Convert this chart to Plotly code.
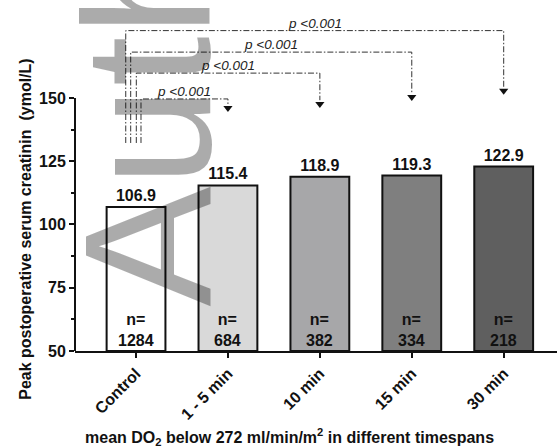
import plotly.graph_objects as go

categories = ["Control", "1 - 5 min", "10 min", "15 min", "30 min"]
values = [106.9, 115.4, 118.9, 119.3, 122.9]
counts = [1284, 684, 382, 334, 218]
bar_colors = ["#ffffff", "#d9d9d9", "#a7a7a9", "#7f7f7f", "#5f5f5f"]
y_ticks = [50, 75, 100, 125, 150]

# comparisons: Control vs each group
comp_targets = [1, 2, 3, 4]
comp_labels = ["p <0.001", "p <0.001", "p <0.001", "p <0.001"]
comp_levels = [149.6, 159.8, 168.1, 176.6]
comp_left_offsets = [0.054, 0.003, -0.058, -0.112]
comp_tips = [146.0, 147.6, 150.4, 152.8]
comp_base = 132.2

xs = list(range(len(categories)))
FONT = "Liberation Sans, Arial, sans-serif"

fig = go.Figure()

fig.add_trace(go.Bar(
    x=xs, y=[v - 50 for v in values], base=50,
    width=0.64,
    marker=dict(color=bar_colors, line=dict(color="#111111", width=2)),
    text=[f"<b>{v:.1f}</b>" for v in values], textposition="outside",
    textfont=dict(family=FONT, size=16, color="#111111"),
    cliponaxis=False, showlegend=False, hoverinfo="skip",
))

# brackets
for t, lvl, off, tip in zip(comp_targets, comp_levels, comp_left_offsets, comp_tips):
    fig.add_trace(go.Scatter(
        x=[0 + off, 0 + off, t, t], y=[comp_base, lvl, lvl, tip + 1.5],
        mode="lines", line=dict(color="#333333", width=1, dash="6px,2px,1.5px,2px"),
        showlegend=False, hoverinfo="skip", cliponaxis=False,
    ))
fig.add_trace(go.Scatter(
    x=comp_targets, y=comp_tips, mode="markers",
    marker=dict(symbol="triangle-down", size=8, color="#111111"),
    showlegend=False, hoverinfo="skip", cliponaxis=False,
))

annotations = []
for t, lvl, off, lab in zip(comp_targets, comp_levels, comp_left_offsets, comp_labels):
    annotations.append(dict(
        x=(off + t) / 2, y=lvl, xref="x", yref="y", text=f"<i>{lab}</i>",
        showarrow=False, yanchor="bottom", xanchor="center", yshift=-2,
        font=dict(family=FONT, size=13.5, color="#222222"),
    ))

for xi, n in zip(xs, counts):
    annotations.append(dict(
        x=xi, y=50, xref="x", yref="y", text=f"<b>n=<br>{n}</b>",
        showarrow=False, yanchor="bottom", xanchor="center", yshift=0,
        font=dict(family=FONT, size=16, color="#111111"),
    ))

annotations.append(dict(
    x=-0.102, y=0.371, xref="paper", yref="paper",
    text="<b>Peak postoperative serum creatinin  (ymol/L)</b>",
    textangle=-90, showarrow=False, xanchor="center", yanchor="middle",
    font=dict(family=FONT, size=16, color="#111111"),
))
annotations.append(dict(
    x=0.446, y=-0.261, xref="paper", yref="paper",
    text="<b>mean DO<sub>2</sub> below 272 ml/min/m<sup>2</sup> in different timespans</b>",
    showarrow=False, xanchor="center", yanchor="middle",
    font=dict(family=FONT, size=16, color="#111111"),
))
# watermark
annotations.append(dict(
    x=0.151, y=0.13, xref="paper", yref="paper",
    text="Author Manuscript", textangle=-90, showarrow=False,
    xanchor="center", yanchor="bottom",
    font=dict(family="Liberation Sans Narrow, Arial Narrow, Liberation Sans", size=180,
              color="rgba(0,0,0,0.33)"),
))

fig.update_layout(
    width=559, height=447,
    margin=dict(l=75, r=2, t=22, b=96),
    plot_bgcolor="white", paper_bgcolor="white",
    bargap=0.36,
    xaxis=dict(
        range=[-0.664, 4.58], tickvals=xs, ticktext=[f"<b>{c}</b>" for c in categories],
        tickangle=-45, showline=True, linecolor="#111111", linewidth=2,
        ticks="outside", ticklen=5, tickwidth=2, tickcolor="#111111",
        tickfont=dict(family=FONT, size=16, color="#111111"),
        showgrid=False, zeroline=False, fixedrange=True,
    ),
    yaxis=dict(
        range=[50, 180], tickvals=y_ticks, ticktext=[f"<b>{v}</b>" for v in y_ticks],
        showline=False, ticks="outside", ticklen=5, tickwidth=2, tickcolor="#111111",
        tickfont=dict(family=FONT, size=16, color="#111111"),
        minor=dict(tickvals=[62.5, 87.5, 112.5, 137.5], ticks="outside", ticklen=3,
                   tickwidth=1.5, tickcolor="#111111", showgrid=False),
        showgrid=False, zeroline=False, fixedrange=True,
    ),
    shapes=[dict(type="line", xref="paper", yref="y", x0=0, x1=0, y0=50, y1=150,
                 line=dict(color="#111111", width=2))],
    annotations=annotations,
)

fig.write_html("out.html")
